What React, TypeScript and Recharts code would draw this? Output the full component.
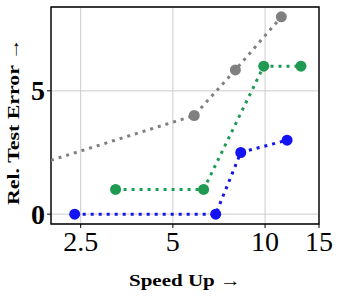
import { LineChart, Line, XAxis, YAxis, CartesianGrid, ReferenceArea } from 'recharts';

// speed up (x) vs relative test error (y)
const blueSpeed = [2.39, 6.9, 8.33, 11.8];
const blueError = [0, 0, 2.5, 3.0];
const greenSpeed = [3.25, 6.3, 9.9, 13.1];
const greenError = [1, 1, 6, 6];
const graySpeed = [1.5, 5.87, 8.0, 11.3];
const grayError = [1.7, 4, 5.85, 8];

const xTicks = [2.5, 5, 10, 15];
const yTicks = [0, 5];

const zip = (xs: number[], ys: number[]) => xs.map((x, i) => ({ x, y: ys[i] }));

const FONT = '"Liberation Serif", "DejaVu Serif", serif';

const XTick = ({ x, y, payload }: any) => (
    <text x={x} y={y} dy={21} textAnchor="middle" fontFamily={FONT} fontSize={28} fill="#000">
        {payload.value}
    </text>
);

const YTick = ({ x, y, payload }: any) => (
    <text x={x} y={y} dy={9.5} textAnchor="end" fontFamily={FONT} fontSize={28} fontWeight="bold" fill="#000">
        {payload.value}
    </text>
);

const YLabel = ({ viewBox }: any) => {
    const cx = 19;
    const cy = viewBox ? viewBox.y + viewBox.height / 2 + 6 : 121;
    return (
        <text
            x={cx}
            y={cy}
            transform={`rotate(-90, ${cx}, ${cy})`}
            textAnchor="middle"
            fontFamily={FONT}
            fontWeight="bold"
            fontSize={16}
            fill="#000"
            textLength={167}
            lengthAdjust="spacingAndGlyphs"
        >
            Rel. Test Error →
        </text>
    );
};

const series = [
    { name: 'gray', color: '#808080', data: zip(graySpeed, grayError) },
    { name: 'green', color: '#1f9a52', data: zip(greenSpeed, greenError) },
    { name: 'blue', color: '#1414f2', data: zip(blueSpeed, blueError) },
];

export default function App() {
    return (
        <div style={{ position: 'absolute', left: 0, top: 0, width: 339, height: 296, background: '#fff' }}>
            <LineChart width={339} height={296} margin={{ top: 7, right: 20, left: 0, bottom: 0 }}>
                <CartesianGrid stroke="#cccccc" strokeWidth={1} />
                <XAxis
                    dataKey="x"
                    type="number"
                    scale="log"
                    domain={[2, 15]}
                    ticks={xTicks}
                    allowDataOverflow
                    height={72}
                    tickSize={4}
                    tickLine={{ stroke: '#000' }}
                    axisLine={false}
                    tick={<XTick />}
                    label={{
                        value: 'Speed Up →',
                        position: 'insideBottom',
                        offset: 10,
                        fontFamily: FONT,
                        fontWeight: 'bold',
                        fontSize: 16,
                        fill: '#000',
                        textLength: 112,
                        lengthAdjust: 'spacingAndGlyphs',
                    }}
                />
                <YAxis
                    dataKey="y"
                    type="number"
                    domain={[-0.4, 8.4]}
                    ticks={yTicks}
                    allowDataOverflow
                    width={51}
                    tickSize={4}
                    tickLine={{ stroke: '#000' }}
                    axisLine={false}
                    tick={<YTick />}
                    label={<YLabel />}
                />
                <ReferenceArea x1={2} x2={15} y1={-0.4} y2={8.4} fill="none" stroke="#000" strokeWidth={1.4} />
                {series.map((s) => (
                    <Line
                        key={s.name}
                        data={s.data}
                        dataKey="y"
                        type="linear"
                        stroke={s.color}
                        strokeWidth={3}
                        strokeDasharray="3 5"
                        dot={{ r: 5.5, fill: s.color, stroke: 'none' }}
                        isAnimationActive={false}
                    />
                ))}
            </LineChart>
        </div>
    );
}
